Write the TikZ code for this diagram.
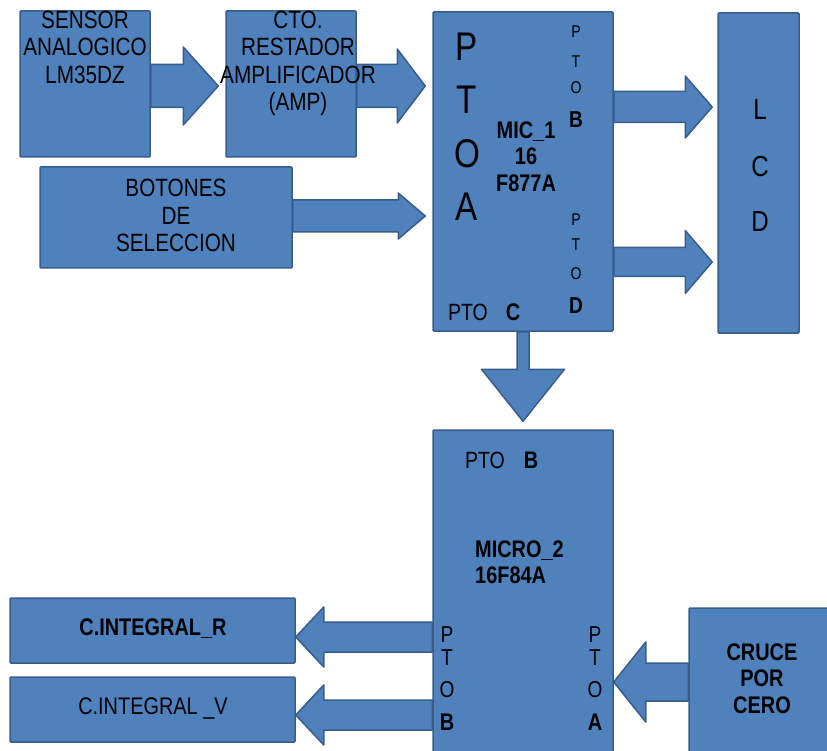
\documentclass[tikz,border=0pt]{standalone}
\usepackage{fontspec}
\setmainfont{Liberation Sans}[FakeStretch=0.83]
\usetikzlibrary{calc}

\definecolor{blkfill}{HTML}{4F81BD}
\definecolor{blkline}{HTML}{385D8A}

\tikzset{
  blk/.style={draw=blkline, fill=blkfill, line width=1.5pt, rounded corners=1pt, inner sep=0pt},
  txt/.style={align=center, inner sep=0pt, font=\fontsize{25}{27.5}\selectfont},
  bld/.style={txt, font=\bfseries\fontsize{24}{26.5}\selectfont},
  % block arrow: shaft half width, head half width, head length
  fat/.style n args={3}{draw=blkline, fill=blkfill, line width=1.5pt, line join=round,
    to path={
      ($(\tikztotarget)!#3!(\tikztostart)$) coordinate (fat-h)
      ($(\tikztostart)!#1!90:(\tikztotarget)$)
      -- ($(fat-h)!#1!-90:(\tikztostart)$)
      -- ($(fat-h)!#2!-90:(\tikztostart)$)
      -- (\tikztotarget)
      -- ($(fat-h)!#2!90:(\tikztostart)$)
      -- ($(fat-h)!#1!90:(\tikztostart)$)
      -- ($(\tikztostart)!#1!-90:(\tikztotarget)$)
      -- cycle}},
}

\begin{document}
\begin{tikzpicture}[x=1pt, y=-1pt]
  \useasboundingbox (0,0) rectangle (827,751);
  \clip (0,0) rectangle (827,751);

  % blocks
  \node[blk, minimum width=130pt, minimum height=146pt] (sensor) at (85,84) {};
  \node[blk, minimum width=130pt, minimum height=146pt] (amp) at (291,84) {};
  \node[blk, minimum width=252pt, minimum height=101pt] (boton) at (166,217.5) {};
  \node[blk, minimum width=180pt, minimum height=319pt] (mic1) at (523,171.5) {};
  \node[blk, minimum width=81pt, minimum height=320pt] (lcd) at (758.5,173) {};
  \node[blk, minimum width=180pt, minimum height=340pt] (micro2) at (523,600) {};
  \node[blk, minimum width=156pt, minimum height=162pt] (cruce) at (767,689) {};
  \node[blk, minimum width=285pt, minimum height=65pt] (intr) at (152.5,630.5) {};
  \node[blk, minimum width=285pt, minimum height=65pt] (intv) at (152.5,709.5) {};

  % arrow ends
  \coordinate (sen-o) at (sensor.east |- 0,86);
  \coordinate[xshift=-7pt] (amp-i) at (amp.west |- 0,86);
  \coordinate (amp-o) at (amp.east |- 0,86);
  \coordinate[xshift=-7pt] (mic1-a) at (mic1.west |- 0,86);
  \coordinate (boton-o) at (boton.east |- 0,216);
  \coordinate[xshift=-7pt] (mic1-b) at (mic1.west |- 0,216);
  \coordinate (mic1-pb) at (mic1.east |- 0,107);
  \coordinate[xshift=-5pt] (lcd-b) at (lcd.west |- 0,107);
  \coordinate (mic1-pd) at (mic1.east |- 0,262);
  \coordinate[xshift=-5pt] (lcd-d) at (lcd.west |- 0,262);
  \coordinate (mic1-pc) at (mic1.south);
  \coordinate[yshift=8pt] (micro2-pb) at (micro2.north);
  \coordinate (cruce-o) at (cruce.west |- 0,682);
  \coordinate (micro2-pa) at (micro2.east |- 0,682);
  \coordinate (micro2-r) at (micro2.west |- 0,637);
  \coordinate (intr-i) at (intr.east |- 0,637);
  \coordinate (micro2-v) at (micro2.west |- 0,715);
  \coordinate (intv-i) at (intv.east |- 0,715);

  % arrows
  \draw[fat={21.5pt}{39pt}{35pt}] (sen-o) to (amp-i);
  \draw[fat={21.5pt}{37pt}{28pt}] (amp-o) to (mic1-a);
  \draw[fat={16pt}{23pt}{27pt}] (boton-o) to (mic1-b);
  \draw[fat={15.5pt}{31pt}{27pt}] (mic1-pb) to (lcd-b);
  \draw[fat={14.5pt}{31.5pt}{27pt}] (mic1-pd) to (lcd-d);
  \draw[fat={6pt}{41.5pt}{52pt}] (mic1-pc) to (micro2-pb);
  \draw[fat={19pt}{40pt}{32pt}] (cruce-o) to (micro2-pa);
  \draw[fat={15pt}{30pt}{28pt}] (micro2-r) to (intr-i);
  \draw[fat={15pt}{30pt}{28pt}] (micro2-v) to (intv-i);

  % texts
  \node[txt] (sensor-t) at (85,47) {SENSOR\\ANALOGICO\\LM35DZ};
  \node[txt] (amp-t) at (298,63.5) {CTO.\\RESTADOR\\AMPLIFICADOR\\(AMP)};
  \node[txt] (boton-t) at (176,215.5) {BOTONES\\DE\\SELECCION};
  \node[bld] (mic1-t) at (526,156.5) {MIC\_1\\16\\F877A};
  \foreach \l/\y in {P/47,T/100,O/154,A/207}
    \node[txt, font=\fontsize{40}{40}\selectfont] (ptoa-\l) at (467,\y) {\l};
  \foreach \l/\y in {P/32,T/62,O/88}
    \node[txt, font=\fontsize{17}{17}\selectfont] (ptob-\l) at (576,\y) {\l};
  \node[txt, font=\bfseries\fontsize{23}{23}\selectfont] (ptob-B) at (576,120) {B};
  \foreach \l/\y in {P/220,T/245,O/274}
    \node[txt, font=\fontsize{17}{17}\selectfont] (ptod-\l) at (576,\y) {\l};
  \node[txt, font=\bfseries\fontsize{23}{23}\selectfont] (ptod-D) at (576,306) {D};
  \node[txt, font=\fontsize{23.5}{23.5}\selectfont] (ptoc-t) at (468,312) {PTO};
  \node[txt, font=\bfseries\fontsize{24}{24}\selectfont] (ptoc-C) at (513,312) {C};
  \foreach \l/\y in {L/110,C/167,D/222}
    \node[txt, font=\fontsize{29}{29}\selectfont] (lcd-\l) at (760,\y) {\l};

  \node[txt, font=\fontsize{23.5}{23.5}\selectfont] (micro2-pt) at (485,460) {PTO};
  \node[txt, font=\bfseries\fontsize{24}{24}\selectfont] (micro2-pB) at (531,460) {B};
  \node[bld, align=left, anchor=west] (micro2-t) at (475,562) {MICRO\_2\\16F84A};
  \foreach \l/\y in {P/635,T/658,O/690}{
    \node[txt, font=\fontsize{23}{23}\selectfont] (ptl-\l) at (447,\y) {\l};
    \node[txt, font=\fontsize{23}{23}\selectfont] (ptr-\l) at (595,\y) {\l};
  }
  \node[txt, font=\bfseries\fontsize{24}{24}\selectfont] (ptl-B) at (447,722) {B};
  \node[txt, font=\bfseries\fontsize{24}{24}\selectfont] (ptr-A) at (595,722) {A};
  \node[bld] (cruce-t) at (762,678.5) {CRUCE\\POR\\CERO};
  \node[bld] (intr-t) at (153,629) {C.INTEGRAL\_R};
  \node[txt, font=\fontsize{24}{24}\selectfont] (intv-t) at (153,709) {C.INTEGRAL \_V};
\end{tikzpicture}
\end{document}
